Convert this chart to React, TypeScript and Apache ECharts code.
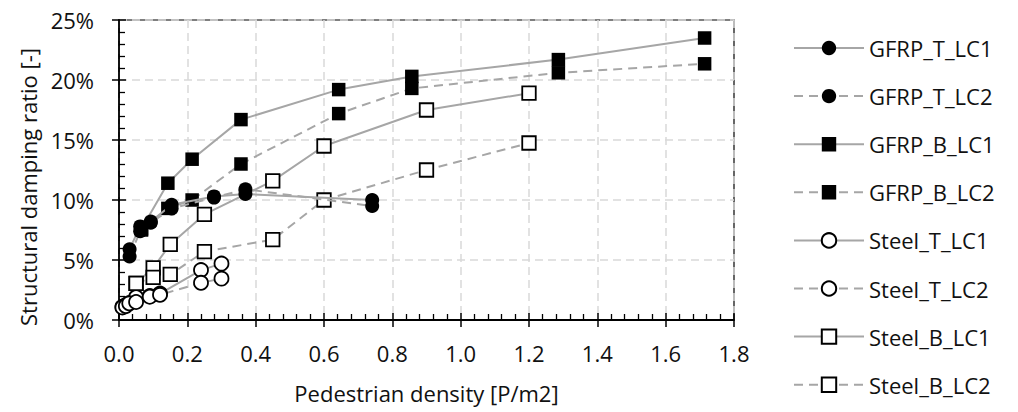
import React, { useEffect, useRef } from "react";
import * as echarts from "echarts";

// Pedestrian density [P/m2]
const xGfrpT = [0.031, 0.062, 0.093, 0.154, 0.278, 0.37, 0.741];
const gfrpT_LC1 = [5.9, 7.8, 8.2, 9.6, 10.3, 10.5, 10.0];
const gfrpT_LC2 = [5.3, 7.4, 8.1, 9.3, 10.2, 10.9, 9.5];

const xGfrpB = [0.066, 0.143, 0.214, 0.357, 0.643, 0.857, 1.286, 1.714];
const gfrpB_LC1 = [7.6, 11.4, 13.4, 16.7, 19.2, 20.3, 21.7, 23.5];
const gfrpB_LC2 = [7.5, 9.3, 10.0, 13.0, 17.2, 19.3, 20.6, 21.35];

const xSteelT = [0.01, 0.02, 0.03, 0.05, 0.09, 0.12, 0.24, 0.3];
const steelT_LC1 = [1.1, 1.25, 1.4, 1.9, 2.0, 2.2, 4.16, 4.7];
const steelT_LC2 = [1.05, 1.16, 1.39, 1.5, 1.94, 2.1, 3.1, 3.45];

const xSteelB = [0.05, 0.1, 0.15, 0.25, 0.45, 0.6, 0.9, 1.2];
const steelB_LC1 = [3.05, 4.35, 6.3, 8.8, 11.6, 14.5, 17.5, 18.9];
const steelB_LC2 = [3.05, 3.55, 3.8, 5.7, 6.7, 10.0, 12.5, 14.75];

const xTicks = ["0.0", "0.2", "0.4", "0.6", "0.8", "1.0", "1.2", "1.4", "1.6", "1.8"];

const FONT = "Open Sans";
const LINE_GRAY = "#a6a6a6";

function pts(xs: number[], ys: number[]) {
  return xs.map((x, i) => [x, ys[i]]);
}

const seriesDefs = [
  { name: "GFRP_T_LC1", xs: xGfrpT, ys: gfrpT_LC1, symbol: "circle", filled: true, dashed: false, z: 4 },
  { name: "GFRP_T_LC2", xs: xGfrpT, ys: gfrpT_LC2, symbol: "circle", filled: true, dashed: true, z: 4 },
  { name: "GFRP_B_LC1", xs: xGfrpB, ys: gfrpB_LC1, symbol: "rect", filled: true, dashed: false, z: 3 },
  { name: "GFRP_B_LC2", xs: xGfrpB, ys: gfrpB_LC2, symbol: "rect", filled: true, dashed: true, z: 3 },
  { name: "Steel_T_LC1", xs: xSteelT, ys: steelT_LC1, symbol: "circle", filled: false, dashed: false, z: 3 },
  { name: "Steel_T_LC2", xs: xSteelT, ys: steelT_LC2, symbol: "circle", filled: false, dashed: true, z: 3 },
  { name: "Steel_B_LC1", xs: xSteelB, ys: steelB_LC1, symbol: "rect", filled: false, dashed: false, z: 3 },
  { name: "Steel_B_LC2", xs: xSteelB, ys: steelB_LC2, symbol: "rect", filled: false, dashed: true, z: 3 },
];

export default function App() {
  const ref = useRef<HTMLDivElement>(null);
  useEffect(() => {
    if (!ref.current) return;
    const chart = echarts.init(ref.current, undefined, { renderer: "svg" });
    const gridPos = { left: 119, top: 20, width: 615, height: 300 };
    const option: any = {
      animation: false,
      backgroundColor: "#ffffff",
      textStyle: { fontFamily: FONT },
      grid: [
        { ...gridPos, show: true, borderColor: "#000", borderWidth: 1.2, backgroundColor: "transparent" },
        { ...gridPos, show: false },
      ],
      xAxis: [
        {
          type: "value",
          gridIndex: 0,
          min: 0,
          max: 1.8,
          interval: 0.2,
          axisLine: { show: true, onZero: false, lineStyle: { color: "#000", width: 1.8 } },
          axisTick: { show: true, inside: true, length: 7, lineStyle: { color: "#000", width: 1.5 } },
          minorTick: { show: true, splitNumber: 5, length: 6, lineStyle: { color: "#000", width: 1.3 } },
          splitLine: { show: true, lineStyle: { color: "#d9d9d9", width: 1.5, type: [8, 5] } },
          axisLabel: {
            margin: 22,
            fontFamily: FONT,
            fontSize: 22,
            color: "#111",
            formatter: (v: number) => xTicks[Math.round(v / 0.2)] ?? v.toFixed(1),
          },
        },
        {
          type: "value",
          gridIndex: 1,
          min: 0,
          max: 1.8,
          interval: 0.2,
          axisLine: { show: false, onZero: false },
          axisTick: { show: true, inside: false, length: 7, lineStyle: { color: "#000", width: 1.5 } },
          axisLabel: { show: false },
          splitLine: { show: false },
        },
      ],
      yAxis: [
        {
          type: "value",
          gridIndex: 0,
          min: 0,
          max: 25,
          interval: 5,
          axisLine: { show: true, onZero: false, lineStyle: { color: "#000", width: 1.8 } },
          axisTick: { show: true, inside: true, length: 7, lineStyle: { color: "#000", width: 1.5 } },
          minorTick: { show: true, splitNumber: 5, length: 6, lineStyle: { color: "#000", width: 1.3 } },
          splitLine: { show: true, lineStyle: { color: "#d9d9d9", width: 1.5, type: [8, 5] } },
          axisLabel: {
            margin: 25,
            fontFamily: FONT,
            fontSize: 22,
            color: "#111",
            formatter: "{value}%",
          },
        },
        {
          type: "value",
          gridIndex: 1,
          min: 0,
          max: 25,
          interval: 5,
          axisLine: { show: false, onZero: false },
          axisTick: { show: true, inside: false, length: 7, lineStyle: { color: "#000", width: 1.5 } },
          axisLabel: { show: false },
          splitLine: { show: false },
        },
      ],
      legend: {
        orient: "vertical",
        left: 793,
        top: 37,
        padding: 0,
        itemWidth: 70,
        itemHeight: 18,
        itemGap: 26.1,
        textStyle: { fontFamily: FONT, fontSize: 22, color: "#111" },
        data: seriesDefs.map((s) => s.name),
      },
      graphic: [
        {
          type: "text",
          x: 28,
          y: 187,
          rotation: Math.PI / 2,
          style: {
            text: "Structural damping ratio [-]",
            fontFamily: FONT,
            fontSize: 22,
            fill: "#111",
            align: "center",
            verticalAlign: "middle",
          },
        },
        {
          type: "text",
          x: 426.5,
          y: 393,
          style: {
            text: "Pedestrian density [P/m2]",
            fontFamily: FONT,
            fontSize: 22,
            fill: "#111",
            align: "center",
            verticalAlign: "middle",
          },
        },
      ],
      series: seriesDefs.map((s) => ({
        name: s.name,
        type: "line",
        xAxisIndex: 0,
        yAxisIndex: 0,
        z: s.z,
        data: pts(s.xs, s.ys),
        symbol: s.symbol,
        symbolSize: s.symbol === "circle" ? 14 : 13.5,
        showSymbol: true,
        lineStyle: { color: LINE_GRAY, width: 2, type: s.dashed ? [9, 6] : "solid" },
        itemStyle: {
          color: s.filled ? "#000" : "#fff",
          borderColor: "#000",
          borderWidth: s.filled ? 0 : 1.8,
        },
        emphasis: { disabled: true },
      })),
    };
    chart.setOption(option);
    return () => chart.dispose();
  }, []);
  return (
    <div
      ref={ref}
      style={{ position: "fixed", left: 0, top: 0, width: 1018, height: 412, background: "#fff" }}
    />
  );
}
